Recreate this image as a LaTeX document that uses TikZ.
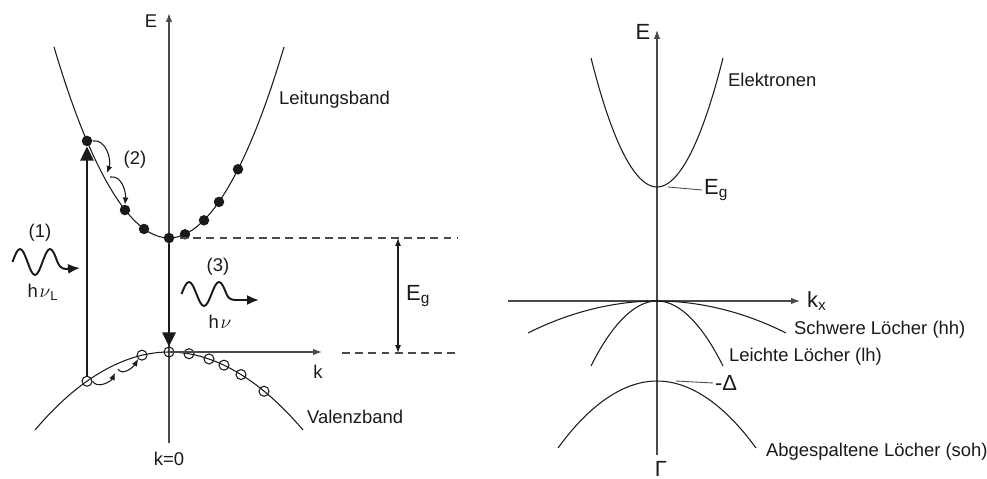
\documentclass[tikz,border=0pt]{standalone}
\usepackage{fontspec}
\setmainfont{Liberation Sans}
\usepackage{xcolor}
\usepackage{tikz}
\usetikzlibrary{arrows.meta, positioning}
\definecolor{ink}{HTML}{1A1A1A}
\definecolor{axisgray}{HTML}{4A4A4A}
\tikzset{
  band/.style     ={draw=ink, line width=0.6pt},
  axis/.style     ={draw=axisgray, line width=0.8pt, -{Latex[length=1.8mm,width=1.3mm]}},
  elec/.style     ={circle, fill=ink, inner sep=0pt, minimum size=2.1mm},
  hole/.style     ={circle, draw=ink, line width=0.6pt, inner sep=0pt, minimum size=2mm},
  trans/.style    ={line width=1.5pt, draw=ink, -{Triangle[length=2.8mm,width=2.6mm]}},
  hop/.style      ={line width=0.6pt, draw=ink, -{Latex[length=1.4mm,width=1.2mm]}},
  photon/.style   ={line width=1.1pt, draw=ink, -{Latex[length=2.4mm,width=2mm]}},
  dashlevel/.style={draw=axisgray, line width=0.6pt, dash pattern=on 4.5pt off 3pt},
  gaparrow/.style ={draw=ink, line width=0.6pt,
                    {Latex[length=1.6mm,width=1.2mm]}-{Latex[length=1.6mm,width=1.2mm]}},
  tickline/.style ={draw=axisgray, line width=0.5pt},
  txt/.style      ={font=\fontsize{10.5}{12}\selectfont, text=ink, inner sep=1pt},
  big/.style      ={font=\fontsize{12.5}{14}\selectfont}
}

\begin{document}
\begin{tikzpicture}[x=0.02cm, y=0.02cm, every node/.style={txt}]
  \useasboundingbox (0,0) rectangle (987,-479);

  \coordinate (Ebot) at (169,-443);
  \coordinate (Etop) at (169,-13);
  \coordinate (ktip) at (322,-352);
  \draw[axis] (Ebot) -- (Etop);
  \draw[band] (54,-47) parabola bend (169,-238) (284,-47);
  \draw[band] (35,-430) parabola bend (169,-352) (303,-430);

  \foreach \dx [count=\i] in {-82,-44,-25,0,16,35,50,69}
    \node[elec] (e\i) at ({169+\dx},{-238+0.014442*(\dx)*(\dx)}) {};
  \foreach \dx [count=\i] in {-82,-27,0,20,40,55,72,95}
    \node[hole] (h\i) at ({169+\dx},{-352-0.004344*(\dx)*(\dx)}) {};
  \draw[axis] (h3.center) -- (ktip);

  \coordinate (cbL) at (180,-238);
  \coordinate (cbR) at (458,-238);
  \coordinate (vbL) at (342,-353);
  \coordinate (vbR) at (458,-353);
  \coordinate (gapT) at (398,-238);
  \coordinate (gapB) at (398,-353);
  \draw[dashlevel] (cbL) -- (cbR);
  \draw[dashlevel] (vbL) -- (vbR);
  \draw[gaparrow] (gapT) -- (gapB);

  \draw[trans] (h1) -- (e1);
  \draw[trans] (e4) -- (h3);

  \coordinate (c2) at (107,-173);
  \coordinate (c2b) at (110,-177);
  \draw[hop] (e1.east) to[out=10,in=70] (c2);
  \draw[hop] (c2b) to[out=10,in=85] (e2.north);
  \coordinate (v2) at (115,-373);
  \coordinate (v2b) at (118,-369);
  \draw[hop] (h1.east) to[out=-60,in=-115] (v2);
  \draw[hop] (v2b) to[out=-60,in=-120] (h2.south west);

  \draw[photon] (12.5,-262) sin (20,-249) cos (27.5,-262) sin (35,-275) cos (42.5,-262)
    sin (50,-249) cos (57.5,-262) to[out=-70,in=180] (66,-269) -- (80,-268);
  \draw[photon] (181.5,-294) sin (189,-282) cos (196.5,-294) sin (204,-306) cos (211.5,-294)
    sin (219,-282) cos (226.5,-294) to[out=-70,in=180] (235,-300) -- (259,-300);

  \node (lE) at (151,-21) {E};
  \node (lk) at (318,-372) {k};
  \node (lk0) at (169,-459) {k=0};
  \node[anchor=west] (lCB) at (277,-100) {Leitungsband};
  \node[anchor=west] (lVB) at (305,-417) {Valenzband};
  \node (n1) at (40,-233) {(1)};
  \node (n2) at (135,-160) {(2)};
  \node (n3) at (218,-267) {(3)};
  \node (lnuL) at (43,-292) {h\kern1pt$\nu$\textsubscript{L}};
  \node (lnu) at (220,-322) {h\kern1pt$\nu$};
  \node[anchor=west, big] (lEg) at (404,-296) {E\textsubscript{g}};

  \coordinate (Gbot) at (657,-455);
  \coordinate (Gtop) at (657,-30);
  \coordinate (kxL) at (508,-301);
  \coordinate (kxR) at (800,-301);
  \draw[axis, line width=0.6pt] (Gbot) -- (Gtop);
  \draw[axis, line width=0.6pt] (kxL) -- (kxR);
  \draw[band] (591,-58) parabola bend (657,-187) (723,-58);
  \draw[band] (528,-333) parabola bend (657,-301) (786,-333);
  \draw[band] (591,-366) parabola bend (657,-301) (723,-366);
  \draw[band] (558,-448) parabola bend (657,-381) (756,-448);

  \node[big] (rE) at (643,-32) {E};
  \node[anchor=west, big] (rkx) at (805,-301) {k\textsubscript{x}};
  \node[anchor=west] (rEl) at (726,-80) {Elektronen};
  \node[anchor=west, big] (rEg) at (702,-190) {E\textsubscript{g}};
  \node[anchor=west] (rhh) at (792,-330) {Schwere Löcher (hh)};
  \node[anchor=west] (rlh) at (727,-357) {Leichte Löcher (lh)};
  \node[anchor=west, big] (rD) at (713,-383) {-Δ};
  \node[anchor=west] (rsoh) at (764,-452) {Abgespaltene Löcher (soh)};
  \node[big] (rG) at (661,-469) {Γ};
  \coordinate (cbmin) at (668,-187);
  \coordinate (somax) at (676,-381);
  \draw[tickline] (cbmin) -- (rEg.west);
  \draw[tickline] (somax) -- (rD.west);
\end{tikzpicture}
\end{document}
